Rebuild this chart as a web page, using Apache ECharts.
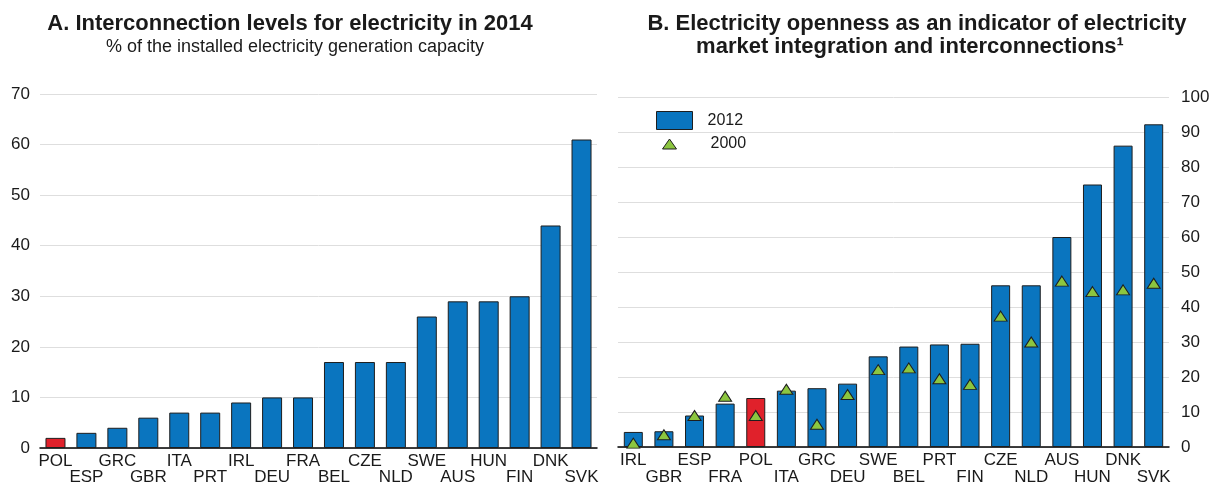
<!DOCTYPE html>
<html>
<head>
<meta charset="utf-8">
<script src="https://cdn.jsdelivr.net/npm/echarts@6/dist/echarts.min.js"></script>
<style>html,body{margin:0;padding:0;background:#fff}#c{width:1213px;height:487px}</style>
</head>
<body>
<div id="c"></div>
<script>
// Panel A: interconnection levels 2014 (% of installed capacity)
var catsA = ['POL','ESP','GRC','GBR','ITA','PRT','IRL','DEU','FRA','BEL','CZE','NLD','SWE','AUS','HUN','FIN','DNK','SVK'];
var valsA = [2,3,4,6,7,7,9,10,10,17,17,17,26,29,29,30,44,61];
// Panel B: electricity openness
var catsB = ['IRL','GBR','ESP','FRA','POL','ITA','GRC','DEU','SWE','BEL','PRT','FIN','CZE','NLD','AUS','HUN','DNK','SVK'];
var vals2012 = [4.3,4.5,9.0,12.4,14.0,16.1,16.8,18.1,25.9,28.7,29.3,29.5,46.2,46.2,60.0,75.0,86.1,92.2];
var vals2000 = [1.1,3.5,9.0,14.5,9.0,16.5,6.5,15.0,22.1,22.6,19.5,17.9,37.4,30.0,47.4,44.4,44.9,46.8];
var ticksA = {min:0, max:70, interval:10};
var ticksB = {min:0, max:100, interval:10};

var BLUE = '#0a75bf', RED = '#e0212b', GREEN = '#8cc63f', EDGE = '#1e1e1e', TXT = '#1a1a1a';
var FONT = '"Liberation Sans", Arial, sans-serif';

function colorFn(p){ return p.name === 'POL' ? RED : BLUE; }
function altLabel(v, i){ return i % 2 === 1 ? '\n' + v : v; }

var chart = echarts.init(document.getElementById('c'));
chart.setOption({
  animation: false,
  textStyle: {fontFamily: FONT, color: TXT},
  graphic: [
    {type:'text', style:{x:290, y:24, text:'A. Interconnection levels for electricity in 2014', textAlign:'center', textVerticalAlign:'middle', font:'bold 22px ' + FONT, fill:TXT}},
    {type:'text', style:{x:295, y:47, text:'% of the installed electricity generation capacity', textAlign:'center', textVerticalAlign:'middle', font:'18px ' + FONT, fill:TXT}},
    {type:'text', style:{x:917, y:24, text:'B. Electricity openness as an indicator of electricity', textAlign:'center', textVerticalAlign:'middle', font:'bold 22px ' + FONT, fill:TXT}},
    {type:'text', style:{x:910, y:47, text:'market integration and interconnections\u00b9', textAlign:'center', textVerticalAlign:'middle', font:'bold 22px ' + FONT, fill:TXT}}
  ],
  legend: [
    {orient:'vertical', left:651, top:106, itemWidth:36, itemHeight:18, itemGap:4,
     textStyle:{fontSize:16, color:TXT, fontFamily:FONT, padding:[0,0,0,10]},
     data:[{name:'2012', icon:'rect', itemStyle:{color:BLUE, borderColor:EDGE, borderWidth:1}}]},
    {orient:'vertical', left:657, top:131, itemWidth:14, itemHeight:10,
     textStyle:{fontSize:16, color:TXT, fontFamily:FONT, padding:[0,0,0,29]},
     data:[{name:'2000', icon:'triangle', itemStyle:{color:GREEN, borderColor:EDGE, borderWidth:1}}]}
  ],
  grid: [
    {left:40, right:616, top:94, bottom:39},
    {left:618, right:44, top:97, bottom:40}
  ],
  xAxis: [
    {type:'category', gridIndex:0, data:catsA,
     axisLine:{lineStyle:{color:'#000', width:1.5}}, axisTick:{show:false},
     axisLabel:{interval:0, formatter:altLabel, fontSize:17, lineHeight:16, margin:5, color:TXT}},
    {type:'category', gridIndex:1, data:catsB,
     axisLine:{lineStyle:{color:'#000', width:1.5}}, axisTick:{show:false},
     axisLabel:{interval:0, formatter:altLabel, fontSize:17, lineHeight:17, margin:5, color:TXT}}
  ],
  yAxis: [
    {type:'value', gridIndex:0, min:ticksA.min, max:ticksA.max, interval:ticksA.interval, position:'left',
     axisLine:{show:false}, axisTick:{show:false},
     axisLabel:{fontSize:17, margin:10, color:TXT},
     splitLine:{lineStyle:{color:'#dedede', width:1}}},
    {type:'value', gridIndex:1, min:ticksB.min, max:ticksB.max, interval:ticksB.interval, position:'right',
     axisLine:{show:false}, axisTick:{show:false},
     axisLabel:{fontSize:17, margin:12, color:TXT},
     splitLine:{lineStyle:{color:'#dedede', width:1}}}
  ],
  series: [
    {name:'Interconnection 2014', type:'bar', xAxisIndex:0, yAxisIndex:0, data:valsA, barWidth:20,
     itemStyle:{color:colorFn, borderColor:EDGE, borderWidth:1}},
    {name:'2012', type:'bar', xAxisIndex:1, yAxisIndex:1, data:vals2012, barWidth:19,
     itemStyle:{color:colorFn, borderColor:EDGE, borderWidth:1}},
    {name:'2000', type:'scatter', xAxisIndex:1, yAxisIndex:1, data:vals2000, symbol:'triangle', symbolSize:[13,10], z:5,
     itemStyle:{color:GREEN, borderColor:EDGE, borderWidth:1, opacity:1}}
  ]
});
</script>
</body>
</html>
